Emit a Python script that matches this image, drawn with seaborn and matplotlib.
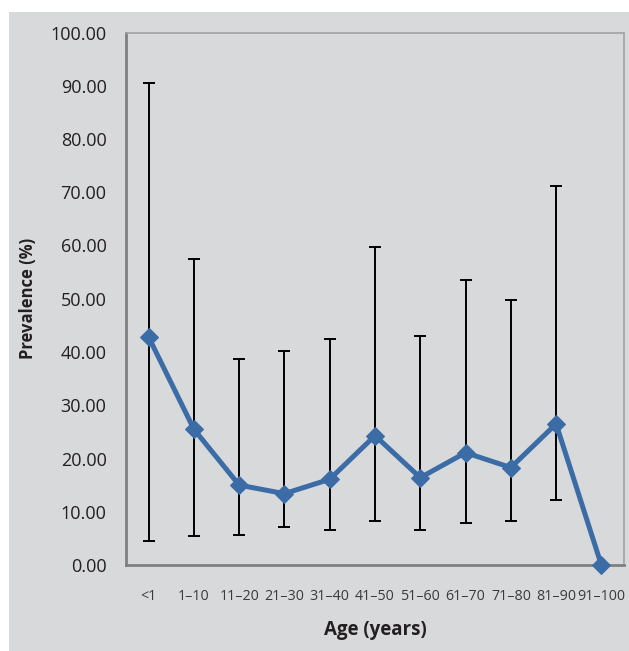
import numpy as np
import pandas as pd
import matplotlib
matplotlib.use("Agg")
import matplotlib.pyplot as plt
import seaborn as sns
from matplotlib.patches import Rectangle

# ---- data ----
age_groups = ['<1', '1–10', '11–20', '21–30', '31–40', '41–50',
              '51–60', '61–70', '71–80', '81–90', '91–100']
prevalence = [42.8, 25.5, 15.0, 13.4, 16.1, 24.3, 16.4, 21.1, 18.3, 26.5, 0.0]
ci_low = [4.5, 5.4, 5.6, 7.2, 6.6, 8.3, 6.6, 7.9, 8.3, 12.3, np.nan]
ci_high = [90.6, 57.5, 38.6, 40.2, 42.4, 59.7, 43.0, 53.6, 49.7, 71.1, np.nan]
y_ticks = [0, 10, 20, 30, 40, 50, 60, 70, 80, 90, 100]

df = pd.DataFrame({'age': age_groups, 'prev': prevalence,
                   'lo': ci_low, 'hi': ci_high})

BG = '#d8d9db'
LINE = '#3b6ca6'

sns.set_style('white')
plt.rcParams['font.family'] = ['Open Sans', 'DejaVu Sans']

fig = plt.figure(figsize=(6.29, 6.51), dpi=100)
fig.patch.set_facecolor('white')
fig.patches.append(Rectangle((9 / 629, 0), 1, 1 - 12 / 651, transform=fig.transFigure,
                             facecolor=BG, edgecolor='none', zorder=-10))

ax = fig.add_axes([126 / 629, 86 / 651, 498 / 629, 532.5 / 651])
ax.set_facecolor(BG)

# error bars (behind the line)
pos = np.arange(len(df))
has_ci = df['lo'].notna().values
ax.errorbar(pos[has_ci], df['prev'][has_ci],
            yerr=[df['prev'][has_ci] - df['lo'][has_ci], df['hi'][has_ci] - df['prev'][has_ci]],
            fmt='none', ecolor='black', elinewidth=1.4, capsize=4.5, capthick=1.4, zorder=2)

sns.lineplot(data=df, x='age', y='prev', sort=False, ax=ax, color=LINE,
             linewidth=3.6, marker='D', markersize=9.5, markeredgecolor=LINE,
             zorder=3, clip_on=False)

ax.set_xlim(-0.5, len(df) - 0.5)
ax.set_ylim(0, 100)
ax.set_yticks(y_ticks)
ax.set_yticklabels([f'{v:.2f}' for v in y_ticks], fontsize=13, color='#231f20')
ax.set_xticks(pos)
ax.set_xticklabels(age_groups, fontsize=10.3, color='#3a3a3a')
ax.set_xticks(np.arange(-0.5, len(df), 1), minor=True)
ax.tick_params(axis='x', which='major', length=0, pad=17)
ax.tick_params(axis='x', which='minor', length=6, width=2, color='#808080', direction='out')
ax.tick_params(axis='y', length=6, width=2, color='#808080', direction='out', pad=8)

for side in ['left', 'bottom']:
    ax.spines[side].set_color('#808080')
    ax.spines[side].set_linewidth(2)
for side in ['top', 'right']:
    ax.spines[side].set_color('#a2a2a2')
    ax.spines[side].set_linewidth(1.2)
for s in ax.spines.values():
    s.set_visible(True)
    s.set_zorder(1)

ax.set_xlabel('Age (years)', fontsize=13.5, fontweight='bold', color='#231f20', labelpad=12)
ax.set_ylabel('Prevalence (%)', fontsize=12, fontweight='bold', color='#231f20', labelpad=10)

fig.savefig('out.png', dpi=100, facecolor='white')
